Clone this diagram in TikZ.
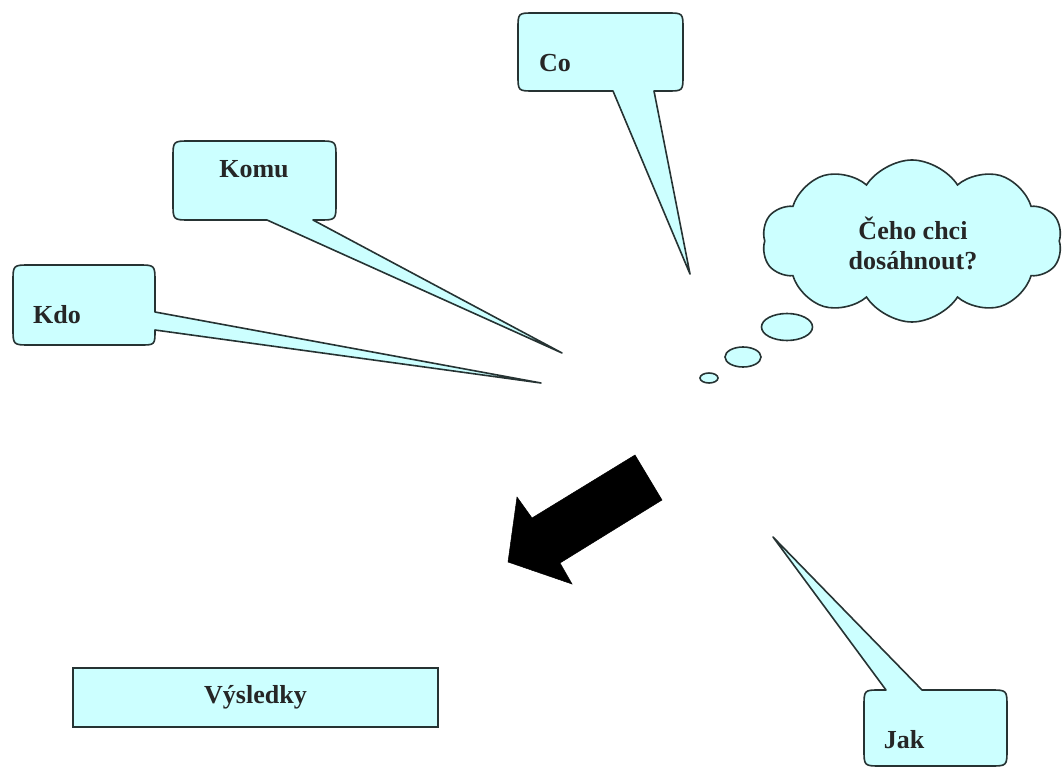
\documentclass[tikz,border=0pt]{standalone}
\usepackage{fontspec}
\setmainfont{Liberation Serif}
\usetikzlibrary{shapes.geometric,shapes.symbols}
\definecolor{callfill}{HTML}{CCFFFF}
\definecolor{callline}{HTML}{263333}
\tikzset{
  balloon/.style={fill=callfill,draw=callline,line width=1.6pt,line join=round},
  lbl/.style={font=\bfseries\fontsize{26}{30}\selectfont,text=black!85,inner sep=0pt,align=center},
  bubble/.style={ellipse,fill=callfill,draw=callline,line width=1.6pt,inner sep=0pt},
  bigarrow/.style={fill=black,draw=black,line width=0.5pt,line join=miter}
}
\begin{document}
\begin{tikzpicture}[x=1pt,y=-1pt]
\useasboundingbox (0,0) rectangle (1063,767);
% Co
\draw[balloon] (534,13) -- (667,13) .. controls (683,13) .. (683,29) -- (683,75)
  .. controls (683,91) .. (667,91) -- (654,91) -- (690,274) -- (613,91) -- (534,91)
  .. controls (518,91) .. (518,75) -- (518,29) .. controls (518,13) .. (534,13) -- cycle;
\node[lbl] (co) at (555,63) {Co};
% Komu
\draw[balloon] (190,141) -- (319,141) .. controls (336,141) .. (336,158) -- (336,203)
  .. controls (336,220) .. (319,220) -- (313,220) -- (562,353) -- (267,220) -- (190,220)
  .. controls (173,220) .. (173,203) -- (173,158) .. controls (173,141) .. (190,141) -- cycle;
\node[lbl] (komu) at (254,169) {Komu};
% Kdo
\draw[balloon] (30,265) -- (138,265) .. controls (155,265) .. (155,282) -- (155,312)
  -- (541,383) -- (155,330) .. controls (155,345) .. (140,345) -- (30,345)
  .. controls (13,345) .. (13,328) -- (13,282) .. controls (13,265) .. (30,265) -- cycle;
\node[lbl] (kdo) at (57,315) {Kdo};
% Jak
\draw[balloon] (880,690) -- (886,690) -- (773,537) -- (922,690) -- (990,690)
  .. controls (1007,690) .. (1007,707) -- (1007,749) .. controls (1007,766) .. (990,766)
  -- (881,766) .. controls (864,766) .. (864,749) -- (864,707) .. controls (864,690) .. (880,690) -- cycle;
\node[lbl] (jak) at (904,740) {Jak};
% thought cloud
\node[cloud,cloud puffs=10,cloud puff arc=115,aspect=1.9,fill=callfill,draw=callline,
  line width=1.6pt,minimum width=300pt,minimum height=162pt,inner sep=0pt] (cloud) at (912,241) {};
\node[lbl] (goal) at (913,243) {Čeho chci\\dosáhnout?};
\node[bubble,minimum width=51pt,minimum height=27pt] (b1) at (787,327) {};
\node[bubble,minimum width=36pt,minimum height=20pt] (b2) at (743,357) {};
\node[bubble,minimum width=18pt,minimum height=10pt] (b3) at (709,378) {};
% big arrow
\filldraw[bigarrow] (635,455) -- (662,500) -- (560,563) -- (572,584) -- (508,562)
  -- (517,497) -- (532,518) -- cycle;
% results
\node[draw=callline,fill=callfill,line width=1.8pt,minimum width=365pt,minimum height=59pt,
  font=\bfseries\fontsize{26}{30}\selectfont,text=black!85,inner sep=0pt] (vys) at (255.5,697.5) {Výsledky};
\end{tikzpicture}
\end{document}
